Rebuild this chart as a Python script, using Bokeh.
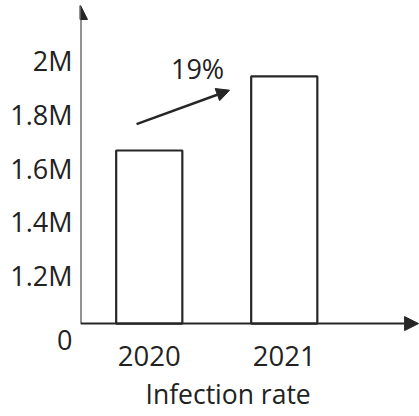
from bokeh.plotting import figure
from bokeh.models import Range1d, FixedTicker, Arrow, NormalHead, Label, Title, ColumnDataSource
from bokeh.embed import file_html
from bokeh.resources import INLINE

# data
years = ["2020", "2021"]
infections = [1.665, 1.94]          # millions
growth_label = "19%"
y_ticks = [0.963, 1.2, 1.4, 1.6, 1.8, 2.0]
y_tick_labels = ["0", "1.2M", "1.4M", "1.6M", "1.8M", "2M"]
x_title = "Infection rate"

FONT = "Open Sans"
INK = "#262626"
TXT = "#222222"

base = 1.022                 # broken-axis baseline (drawn as "0")
y0, y1 = 0.9444, 2.2222
x0, x1 = -0.0093, 2.5018

xs = [i + 0.5 for i in range(len(years))]
src = ColumnDataSource(dict(x=xs, top=infections, year=years))

p = figure(width=419, height=416, output_backend="svg", toolbar_location=None,
           x_range=Range1d(x0, x1), y_range=Range1d(y0, y1),
           min_border_left=80, min_border_right=0, min_border_top=0, min_border_bottom=71)
p.outline_line_color = None
p.grid.grid_line_color = None
p.background_fill_color = "white"

p.vbar(x="x", top="top", bottom=base, width=0.49, source=src,
       fill_color="white", line_color=INK, line_width=2.2)

# y axis
ya = p.yaxis[0]
ya.ticker = FixedTicker(ticks=y_ticks)
ya.major_label_overrides = {t: l for t, l in zip(y_ticks, y_tick_labels)}
ya.axis_line_color = None
ya.major_tick_line_color = None
ya.minor_tick_line_color = None
ya.major_tick_out = 0
ya.major_label_standoff = 8
ya.major_label_text_font = FONT
ya.major_label_text_font_size = "27px"
ya.major_label_text_color = TXT

# x axis
xa = p.xaxis[0]
xa.ticker = FixedTicker(ticks=xs)
xa.major_label_overrides = {x: y for x, y in zip(xs, years)}
xa.axis_line_color = None
xa.major_tick_line_color = None
xa.minor_tick_line_color = None
xa.major_tick_out = 0
xa.major_tick_in = 0
xa.major_label_standoff = 1
xa.major_label_text_font = FONT
xa.major_label_text_font_size = "27.5px"
xa.major_label_text_color = TXT

# x title (left-aligned with offset to match reference placement)
p.add_layout(Title(text=x_title, align="left", offset=65, standoff=10,
                   text_font=FONT, text_font_size="26.5px", text_font_style="normal",
                   text_color=TXT), "below")

# axis arrows
p.add_layout(Arrow(x_start=x0, y_start=base, x_end=x0, y_end=2.2037,
                   line_color=INK, line_width=2,
                   end=NormalHead(size=14, fill_color=INK, line_color=INK)))
p.add_layout(Arrow(x_start=x0, y_start=base, x_end=2.495, y_end=base,
                   line_color=INK, line_width=2,
                   end=NormalHead(size=14, fill_color=INK, line_color=INK)))

# growth arrow and label
p.add_layout(Arrow(x_start=0.406, y_start=1.763, x_end=1.095, y_end=1.889,
                   line_color=INK, line_width=2.5,
                   end=NormalHead(size=13, fill_color=INK, line_color=INK)))
p.add_layout(Label(x=0.858, y=1.970, text=growth_label,
                   text_align="center", text_baseline="middle",
                   text_font=FONT, text_font_size="27px", text_color=TXT))

open("out.html", "w").write(file_html(p, INLINE))
